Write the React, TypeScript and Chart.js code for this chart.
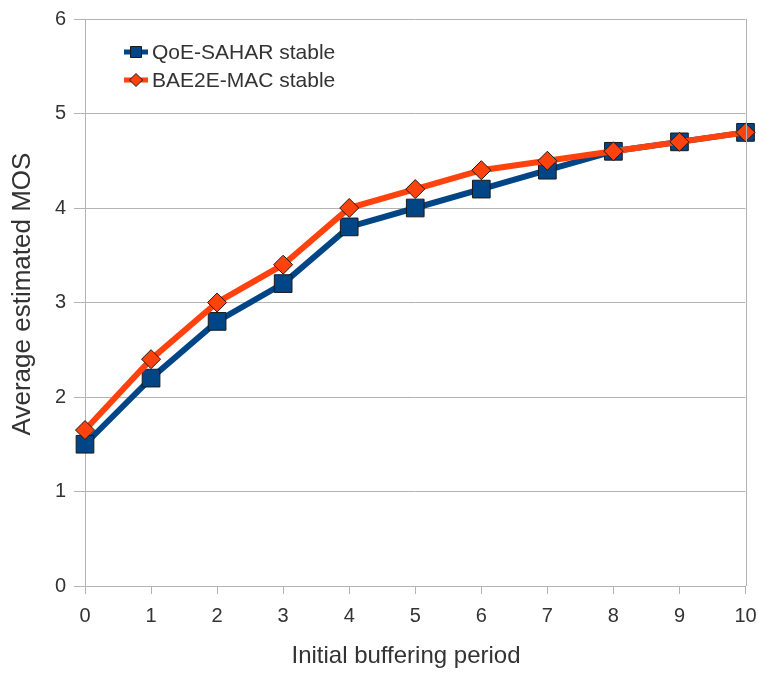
import React, { useEffect, useRef } from "react";
import { Chart, registerables } from "chart.js";

Chart.register(...registerables);

const periods = ["0", "1", "2", "3", "4", "5", "6", "7", "8", "9", "10"];
const qoeSahar = [1.5, 2.2, 2.8, 3.2, 3.8, 4.0, 4.2, 4.4, 4.6, 4.7, 4.8];
const bae2eMac = [1.65, 2.4, 3.0, 3.4, 4.0, 4.2, 4.4, 4.5, 4.6, 4.7, 4.8];
const yTicks = [0, 1, 2, 3, 4, 5, 6];
const xTitle = "Initial buffering period";
const yTitle = "Average estimated MOS";

const BLUE = "#004586";
const ORANGE = "#ff420e";
const GRID = "#b3b3b3";
const TEXT = "#333333";
const FONT = "'Liberation Sans', Arial, sans-serif";

// Right-hand frame line, axis titles and a legend with line + marker samples
const framePlugin = {
  id: "frameAndLegend",
  afterDraw(chart: any) {
    const { ctx, chartArea } = chart;
    ctx.save();
    ctx.strokeStyle = GRID;
    ctx.lineWidth = 1;
    ctx.beginPath();
    ctx.moveTo(Math.round(chartArea.right) + 0.5, chartArea.top);
    ctx.lineTo(Math.round(chartArea.right) + 0.5, chartArea.bottom);
    ctx.stroke();

    // axis titles
    ctx.fillStyle = TEXT;
    ctx.textAlign = "center";
    ctx.textBaseline = "middle";
    ctx.font = `24px ${FONT}`;
    ctx.fillText(xTitle, 406, 656);
    ctx.save();
    ctx.translate(23, 294);
    ctx.rotate(-Math.PI / 2);
    ctx.font = `26px ${FONT}`;
    ctx.fillText(yTitle, 0, 0);
    ctx.restore();

    const rows = chart.data.datasets.map((ds: any, i: number) => ({
      label: ds.label,
      color: ds.borderColor,
      style: ds.pointStyle,
      y: 52 + i * 28,
    }));
    rows.forEach((r: any) => {
      ctx.strokeStyle = r.color;
      ctx.lineWidth = 5;
      ctx.beginPath();
      ctx.moveTo(124, r.y);
      ctx.lineTo(148, r.y);
      ctx.stroke();
      ctx.fillStyle = r.color;
      ctx.strokeStyle = "#1a1a1a";
      ctx.lineWidth = 1;
      ctx.beginPath();
      if (r.style === "rect") {
        ctx.rect(130.5, r.y - 5.5, 11, 11);
      } else {
        ctx.moveTo(136, r.y - 6.5);
        ctx.lineTo(142.5, r.y);
        ctx.lineTo(136, r.y + 6.5);
        ctx.lineTo(129.5, r.y);
        ctx.closePath();
      }
      ctx.fill();
      ctx.stroke();
      ctx.fillStyle = TEXT;
      ctx.font = `21px ${FONT}`;
      ctx.textBaseline = "middle";
      ctx.textAlign = "left";
      ctx.fillText(r.label, 152, r.y + 1);
    });
    ctx.restore();
  },
};

export default function App() {
  const ref = useRef<HTMLCanvasElement>(null);
  useEffect(() => {
    if (!ref.current) return;
    const chart = new Chart(ref.current, {
      type: "line",
      data: {
        labels: periods,
        datasets: [
          {
            label: "QoE-SAHAR stable",
            data: qoeSahar,
            order: 1,
            borderColor: BLUE,
            backgroundColor: BLUE,
            borderWidth: 6,
            pointStyle: "rect",
            pointRadius: 12.5,
            pointBorderColor: "#1a1a1a",
            pointBorderWidth: 1,
            pointBackgroundColor: BLUE,
            tension: 0,
          },
          {
            label: "BAE2E-MAC stable",
            data: bae2eMac,
            order: 0,
            borderColor: ORANGE,
            backgroundColor: ORANGE,
            borderWidth: 6,
            pointStyle: "rectRot",
            pointRadius: 9.5,
            pointBorderColor: "#1a1a1a",
            pointBorderWidth: 1,
            pointBackgroundColor: ORANGE,
            tension: 0,
          },
        ],
      },
      options: {
        responsive: false,
        animation: false,
        layout: { padding: { top: 19, right: 13, left: 0, bottom: 0 } },
        plugins: {
          legend: { display: false },
          tooltip: { enabled: false },
        },
        scales: {
          x: {
            type: "category",
            offset: false,
            grid: {
              drawOnChartArea: false,
              drawTicks: true,
              tickLength: 8,
              color: GRID,
            },
            border: { color: GRID },
            ticks: {
              color: TEXT,
              font: { family: FONT, size: 20 },
              padding: 10,
              maxRotation: 0,
            },
            afterFit(scale: any) {
              scale.height = 87;
              scale.paddingRight = 0;
              scale.paddingLeft = 0;
            },
          },
          y: {
            min: 0,
            max: 6,
            afterBuildTicks(scale: any) {
              scale.ticks = yTicks.map((v) => ({ value: v }));
            },
            grid: { color: GRID, tickLength: 11 },
            border: { color: GRID },
            ticks: {
              color: TEXT,
              font: { family: FONT, size: 20 },
              padding: 8,
            },
            afterFit(scale: any) {
              scale.width = 85;
              scale.paddingTop = 0;
              scale.paddingBottom = 0;
            },
          },
        },
      },
      plugins: [framePlugin],
    });
    return () => chart.destroy();
  }, []);
  return (
    <div style={{ position: "fixed", left: 0, top: 0, width: 759, height: 673, background: "#fff" }}>
      <canvas ref={ref} width={759} height={673} />
    </div>
  );
}
